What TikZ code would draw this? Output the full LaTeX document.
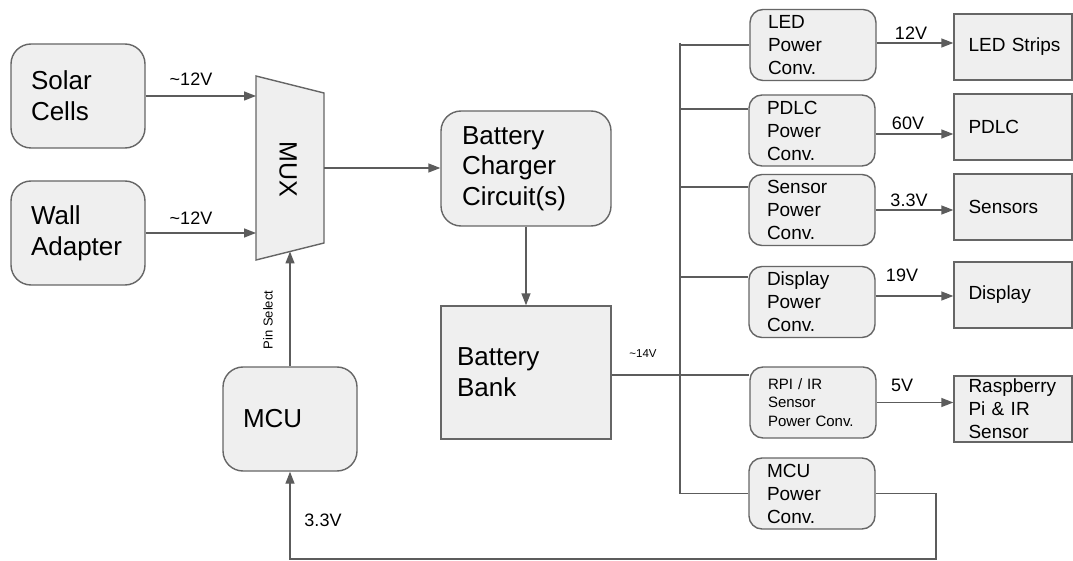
\documentclass[tikz,border=0pt]{standalone}
\usepackage{fontspec}
\setmainfont{Liberation Sans}
\usetikzlibrary{arrows.meta}
\definecolor{boxfill}{RGB}{239,239,239}
\definecolor{boxline}{RGB}{102,102,102}
\definecolor{wirecol}{RGB}{92,92,92}
\begin{document}
\begin{tikzpicture}[x=1pt,y=-1pt,
  base/.style={draw=boxline, fill=boxfill, line width=1.4pt, inner ysep=0pt, align=left, text=black},
  bigbox/.style={base, rounded corners=20pt, font=\fontsize{26}{31}\selectfont},
  conv/.style={base, rounded corners=13pt, font=\fontsize{19}{23}\selectfont, minimum width=126pt, minimum height=71pt, text width=90pt, inner xsep=18pt},
  dev/.style={base, font=\fontsize{19}{23}\selectfont, minimum width=118pt, minimum height=66pt, text width=89pt, inner xsep=14.5pt},
  wire/.style={draw=wirecol, line width=1.4pt},
  arr/.style={wire, -{Triangle[length=12pt,width=9pt]}},
  lbl/.style={font=\fontsize{18}{21}\selectfont, inner sep=0pt, text=black}
]
\useasboundingbox (0,0) rectangle (1073,561);
\fill[white] (0,0) rectangle (1073,561);

% MUX shape
\filldraw[fill=boxfill, draw=boxline, line width=1.4pt] (256,76) -- (324,93) -- (324,243) -- (256,260) -- cycle;
\node[font=\fontsize{25}{30}\selectfont, rotate=-90, inner sep=0pt] (muxlbl) at (288,169.5) {MUX};
\coordinate (muxL) at (256,168);
\coordinate (muxR) at (324,168);
\coordinate (muxS) at (290,251.5);

% left boxes
\node[bigbox, minimum width=134pt, minimum height=104pt, text width=94pt, inner xsep=20pt] (solar) at (78,96) {Solar\\Cells};
\node[bigbox, minimum width=134pt, minimum height=104pt, text width=94pt, inner xsep=20pt] (wall) at (78,233) {Wall\\Adapter};
\node[bigbox, minimum width=170pt, minimum height=115pt, text width=128pt, inner xsep=21pt, font=\fontsize{26}{30.5}\selectfont] (charger) at (526,168.5) {Battery\\Charger\\Circuit(s)};
\node[base, font=\fontsize{26}{31}\selectfont, minimum width=170pt, minimum height=133pt, text width=138pt, inner xsep=16pt] (bank) at (526,372.5) {Battery\\Bank};
\node[bigbox, minimum width=134pt, minimum height=104pt, text width=94pt, inner xsep=20pt] (mcu) at (290,419) {MCU};

% converters
\node[conv] (ledc) at (813,45) {LED\\Power\\Conv.};
\node[conv] (pdlcc) at (812,130.5) {PDLC\\Power\\Conv.};
\node[conv] (sensc) at (812,210) {Sensor\\Power\\Conv.};
\node[conv] (dispc) at (812,302) {Display\\Power\\Conv.};
\node[conv, font=\fontsize{15}{18.5}\selectfont] (rpic) at (813,402.5) {RPI~/~IR\\Sensor\\Power~Conv.};
\node[conv] (mcuc) at (812,493.5) {MCU\\Power\\Conv.};

% loads
\node[dev] (leds) at (1013,47) {LED~Strips};
\node[dev] (pdlc) at (1013,127) {PDLC};
\node[dev] (sens) at (1013,207) {Sensors};
\node[dev] (disp) at (1013,295) {Display};
\node[dev] (rpi) at (1013,409) {Raspberry\\Pi~\&~IR\\Sensor};

% left connectors
\draw[arr] (solar.east) -- (solar.east -| muxL);
\draw[arr] (wall.east) -- (wall.east -| muxL);
\draw[arr] (muxR) -- (muxR -| charger.west);
\draw[arr] (charger.south) -- (bank.north);
\draw[arr] (mcu.north) -- (muxS);

% bus
\coordinate (btop) at (680,43);
\coordinate (b1) at (680,45);
\coordinate (b2) at (680,109);
\coordinate (b3) at (680,187);
\coordinate (b4) at (680,277);
\coordinate (b5) at (680,375);
\coordinate (bbot) at (680,493.5);
\draw[wire] (btop) -- (bbot);
\draw[wire] (bank.east |- b5) -- (b5);
\draw[wire] (b1) -- (b1 -| ledc.west);
\draw[wire] (b2) -- (b2 -| pdlcc.west);
\draw[wire] (b3) -- (b3 -| sensc.west);
\draw[wire] (b4) -- (b4 -| dispc.west);
\draw[wire] (b5) -- (b5 -| rpic.west);
\draw[wire] (bbot) -- (mcuc.west);

% converter outputs
\draw[arr] ([yshift=2pt]ledc.east) -- ([yshift=2pt]ledc.east -| leds.west);
\draw[arr] ([yshift=-3.5pt]pdlcc.east) -- ([yshift=-3.5pt]pdlcc.east -| pdlc.west);
\draw[arr] (sensc.east) -- (sensc.east -| sens.west);
\draw[arr] ([yshift=6pt]dispc.east) -- ([yshift=6pt]dispc.east -| disp.west);
\draw[arr] (rpic.east) -- (rpic.east -| rpi.west);

% MCU supply return
\coordinate (ret) at (936,559);
\draw[arr] (mcuc.east) -| (ret) -| (mcu.south);

% labels
\node[lbl] (ls1) at (191,79) {\textasciitilde12V};
\node[lbl] (ls2) at (191,218) {\textasciitilde12V};
\node[lbl] (l12) at (911,33) {12V};
\node[lbl] (l60) at (908,123) {60V};
\node[lbl] (l33a) at (909,200) {3.3V};
\node[lbl] (l19) at (902,275) {19V};
\node[lbl] (l5) at (902,385) {5V};
\node[lbl] (l33b) at (323,520) {3.3V};
\node[font=\fontsize{13}{15}\selectfont, rotate=90, inner sep=0pt] (pinsel) at (268,320) {Pin Select};
\node[font=\fontsize{11.5}{13}\selectfont, inner sep=0pt] (v14) at (643,354) {\textasciitilde14V};
\end{tikzpicture}
\end{document}
